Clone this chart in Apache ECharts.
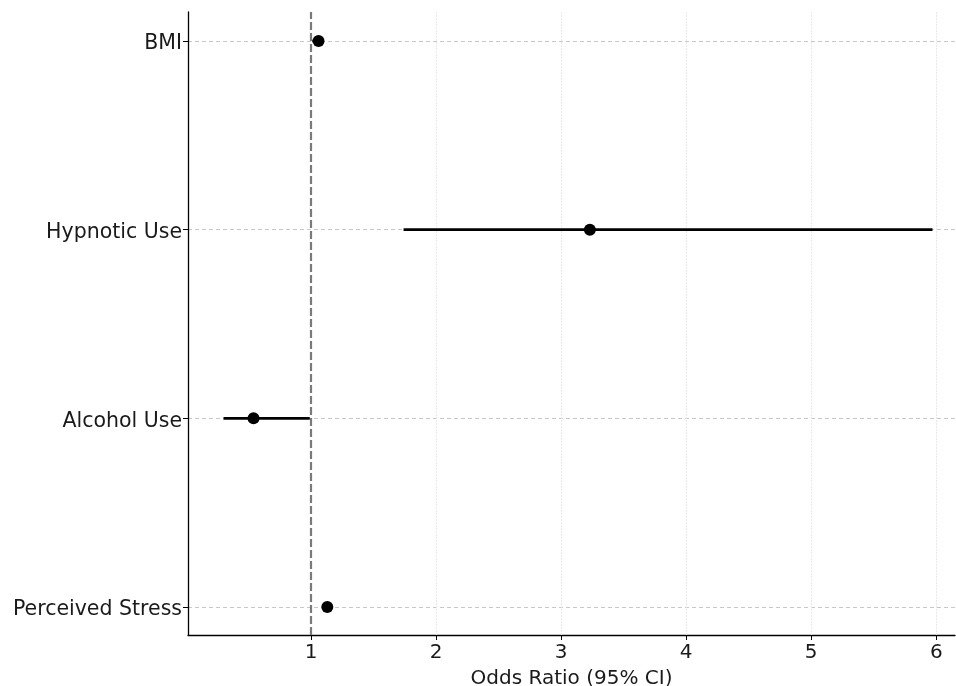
<!DOCTYPE html>
<html>
<head>
<meta charset="utf-8">
<script src="https://cdn.jsdelivr.net/npm/echarts@6/dist/echarts.min.js"></script>
<style>
  html, body { margin: 0; padding: 0; background: #fff; }
  #chart { width: 956px; height: 686px; }
</style>
</head>
<body>
<div id="chart"></div>
<script>
// forest plot data (odds ratios, 95% CI)
const categories = ['BMI', 'Hypnotic Use', 'Alcohol Use', 'Perceived Stress']
const oddsRatio = [1.06, 3.23, 0.54, 1.13]
const ciLower = [1.01, 1.74, 0.30, 1.10]
const ciUpper = [1.10, 5.97, 0.99, 1.17]
const xTicks = [1, 2, 3, 4, 5, 6]
const refValue = 1

const xMin = 0.016
const xMax = 6.15
const font = 'DejaVu Sans'
const textColor = '#1a1a1a'

const chart = echarts.init(document.getElementById('chart'))

const ciData = categories.map((c, i) => [ciLower[i], ciUpper[i], c])
const pointData = categories.map((c, i) => [oddsRatio[i], c])

chart.setOption({
  animation: false,
  grid: [
    // frame grid: axis lines, x ticks, vertical grid
    { left: 188, right: 1, top: 12, bottom: 51, outerBoundsMode: 'none' },
    // data grid: categories sit at the ends (matplotlib margins)
    { left: 188, right: 1, top: 41, bottom: 79, outerBoundsMode: 'none' }
  ],
  xAxis: [
    {
      gridIndex: 0,
      type: 'value',
      min: xMin,
      max: xMax,
      axisLine: { show: true, onZero: false, lineStyle: { color: '#000', width: 1.3 } },
      axisTick: { show: true, length: 5, lineStyle: { color: '#000' }, customValues: xTicks },
      axisLabel: {
        customValues: xTicks,
        color: textColor, fontFamily: font, fontSize: 20, margin: 8
      },
      splitLine: { show: false },
      name: 'Odds Ratio (95% CI)',
      nameLocation: 'middle',
      nameGap: 34,
      nameTextStyle: { color: textColor, fontFamily: font, fontSize: 20 }
    },
    {
      gridIndex: 1,
      type: 'value',
      min: xMin,
      max: xMax,
      show: false
    }
  ],
  yAxis: [
    {
      gridIndex: 0,
      type: 'value',
      min: 0,
      max: 1,
      axisLine: { show: true, lineStyle: { color: '#000', width: 1.3 } },
      axisTick: { show: false },
      axisLabel: { show: false },
      splitLine: { show: false }
    },
    {
      gridIndex: 1,
      type: 'category',
      data: categories,
      inverse: true,
      boundaryGap: false,
      axisLine: { show: false },
      axisTick: { show: true, length: 5, lineStyle: { color: '#000' } },
      axisLabel: {
        margin: 6,
        formatter: v => '{t|' + v + '}',
        rich: {
          t: { color: textColor, fontFamily: font, fontSize: 20.5, padding: [6, 0, 0, 0] }
        }
      },
      splitLine: { show: true, lineStyle: { color: '#c8c8c8', type: [4, 3], width: 1 } }
    }
  ],
  series: [
    {
      // vertical light grid lines at tick positions
      type: 'scatter',
      xAxisIndex: 0,
      yAxisIndex: 0,
      data: [],
      silent: true,
      markLine: {
        silent: true,
        symbol: 'none',
        label: { show: false },
        lineStyle: { color: '#e8e8e8', type: [2, 1], width: 1 },
        data: xTicks.filter(t => t !== refValue).map(t => ({ xAxis: t }))
      }
    },
    {
      type: 'scatter',
      xAxisIndex: 0,
      yAxisIndex: 0,
      data: [],
      silent: true,
      markLine: {
        silent: true,
        symbol: 'none',
        label: { show: false },
        lineStyle: { color: '#7a7a7a', type: [8, 3], width: 2.2 },
        data: [{ xAxis: refValue }]
      }
    },
    {
      type: 'custom',
      xAxisIndex: 1,
      yAxisIndex: 1,
      data: ciData,
      encode: { x: [0, 1], y: 2 },
      renderItem: function (params, api) {
        const a = api.coord([api.value(0), api.value(2)])
        const b = api.coord([api.value(1), api.value(2)])
        return {
          type: 'line',
          shape: { x1: a[0], y1: a[1], x2: b[0], y2: b[1] },
          style: { stroke: '#000', lineWidth: 2.6 }
        }
      },
      z: 5
    },
    {
      type: 'scatter',
      xAxisIndex: 1,
      yAxisIndex: 1,
      data: pointData,
      symbol: 'circle',
      symbolSize: 12,
      itemStyle: { color: '#000', opacity: 1 },
      z: 6
    }
  ]
})
</script>
</body>
</html>
